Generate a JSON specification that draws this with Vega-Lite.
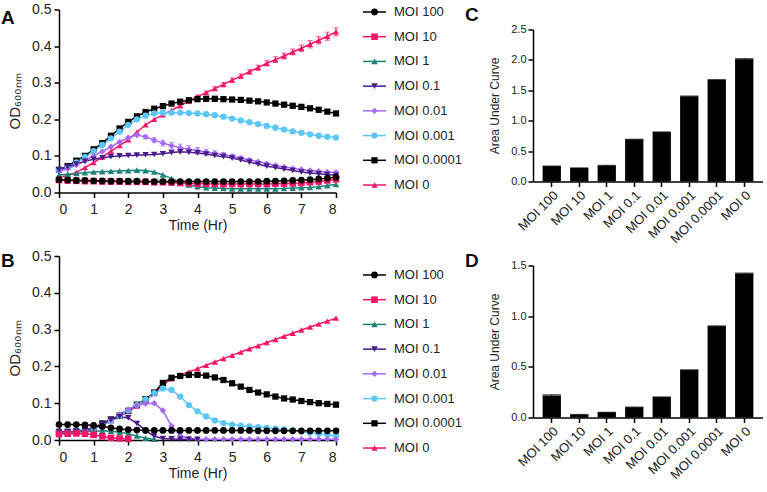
{
  "$schema": "https://vega.github.io/schema/vega-lite/v6.json",
  "background": "white",
  "padding": {"left": 1, "top": 2.5, "right": 0, "bottom": 0},
  "config": {
    "view": {"stroke": null},
    "font": "Liberation Sans",
    "axis": {
      "grid": false,
      "domainColor": "#000",
      "domainWidth": 1.5,
      "tickColor": "#000",
      "tickWidth": 1.5,
      "tickSize": 5,
      "labelColor": "#222",
      "labelFontSize": 13,
      "labelFont": "Liberation Sans",
      "titleFont": "Liberation Sans",
      "titleFontSize": 13,
      "titleFontWeight": "normal",
      "titleColor": "#222"
    },
    "title": {"fontSize": 19, "fontWeight": "bold", "color": "#111", "anchor": "start", "frame": "group", "baseline": "alphabetic"}
  },
  "datasets": {
    "lineA": [
      {"m":"MOI 0","t":0,"v":0.042},{"m":"MOI 0","t":0.25,"v":0.046},{"m":"MOI 0","t":0.5,"v":0.055},{"m":"MOI 0","t":0.75,"v":0.068},
      {"m":"MOI 0","t":1,"v":0.082},{"m":"MOI 0","t":1.25,"v":0.097},{"m":"MOI 0","t":1.5,"v":0.113},{"m":"MOI 0","t":1.75,"v":0.128},
      {"m":"MOI 0","t":2,"v":0.144},{"m":"MOI 0","t":2.25,"v":0.165},{"m":"MOI 0","t":2.5,"v":0.185},{"m":"MOI 0","t":2.75,"v":0.2},
      {"m":"MOI 0","t":3,"v":0.212},{"m":"MOI 0","t":3.25,"v":0.225},{"m":"MOI 0","t":3.5,"v":0.237},{"m":"MOI 0","t":3.75,"v":0.25},
      {"m":"MOI 0","t":4,"v":0.262,"e":0.004},{"m":"MOI 0","t":4.25,"v":0.273,"e":0.004},{"m":"MOI 0","t":4.5,"v":0.284,"e":0.005},{"m":"MOI 0","t":4.75,"v":0.295,"e":0.005},
      {"m":"MOI 0","t":5,"v":0.307,"e":0.006},{"m":"MOI 0","t":5.25,"v":0.318,"e":0.006},{"m":"MOI 0","t":5.5,"v":0.33,"e":0.006},{"m":"MOI 0","t":5.75,"v":0.341,"e":0.007},
      {"m":"MOI 0","t":6,"v":0.353,"e":0.007},{"m":"MOI 0","t":6.25,"v":0.363,"e":0.008},{"m":"MOI 0","t":6.5,"v":0.373,"e":0.008},{"m":"MOI 0","t":6.75,"v":0.384,"e":0.008},
      {"m":"MOI 0","t":7,"v":0.394,"e":0.009},{"m":"MOI 0","t":7.25,"v":0.405,"e":0.01},{"m":"MOI 0","t":7.5,"v":0.416,"e":0.01},{"m":"MOI 0","t":7.75,"v":0.427,"e":0.011},
      {"m":"MOI 0","t":8,"v":0.439,"e":0.011},

      {"m":"MOI 0.0001","t":0,"v":0.062},{"m":"MOI 0.0001","t":0.25,"v":0.072},{"m":"MOI 0.0001","t":0.5,"v":0.087},{"m":"MOI 0.0001","t":0.75,"v":0.1},
      {"m":"MOI 0.0001","t":1,"v":0.118},{"m":"MOI 0.0001","t":1.25,"v":0.135},{"m":"MOI 0.0001","t":1.5,"v":0.155},{"m":"MOI 0.0001","t":1.75,"v":0.175},
      {"m":"MOI 0.0001","t":2,"v":0.193},{"m":"MOI 0.0001","t":2.25,"v":0.208},{"m":"MOI 0.0001","t":2.5,"v":0.22},{"m":"MOI 0.0001","t":2.75,"v":0.229},
      {"m":"MOI 0.0001","t":3,"v":0.236},{"m":"MOI 0.0001","t":3.25,"v":0.243},{"m":"MOI 0.0001","t":3.5,"v":0.248},{"m":"MOI 0.0001","t":3.75,"v":0.252},
      {"m":"MOI 0.0001","t":4,"v":0.255},{"m":"MOI 0.0001","t":4.25,"v":0.256},{"m":"MOI 0.0001","t":4.5,"v":0.256},{"m":"MOI 0.0001","t":4.75,"v":0.255},
      {"m":"MOI 0.0001","t":5,"v":0.254},{"m":"MOI 0.0001","t":5.25,"v":0.253},{"m":"MOI 0.0001","t":5.5,"v":0.251},{"m":"MOI 0.0001","t":5.75,"v":0.249},
      {"m":"MOI 0.0001","t":6,"v":0.246},{"m":"MOI 0.0001","t":6.25,"v":0.243},{"m":"MOI 0.0001","t":6.5,"v":0.24},{"m":"MOI 0.0001","t":6.75,"v":0.237},
      {"m":"MOI 0.0001","t":7,"v":0.234},{"m":"MOI 0.0001","t":7.25,"v":0.23},{"m":"MOI 0.0001","t":7.5,"v":0.226},{"m":"MOI 0.0001","t":7.75,"v":0.221},
      {"m":"MOI 0.0001","t":8,"v":0.216},

      {"m":"MOI 0.001","t":0,"v":0.06},{"m":"MOI 0.001","t":0.25,"v":0.068},{"m":"MOI 0.001","t":0.5,"v":0.082},{"m":"MOI 0.001","t":0.75,"v":0.097},
      {"m":"MOI 0.001","t":1,"v":0.113},{"m":"MOI 0.001","t":1.25,"v":0.13},{"m":"MOI 0.001","t":1.5,"v":0.148},{"m":"MOI 0.001","t":1.75,"v":0.166},
      {"m":"MOI 0.001","t":2,"v":0.185},{"m":"MOI 0.001","t":2.25,"v":0.2},{"m":"MOI 0.001","t":2.5,"v":0.21},{"m":"MOI 0.001","t":2.75,"v":0.216},
      {"m":"MOI 0.001","t":3,"v":0.218},{"m":"MOI 0.001","t":3.25,"v":0.218},{"m":"MOI 0.001","t":3.5,"v":0.218},{"m":"MOI 0.001","t":3.75,"v":0.217},
      {"m":"MOI 0.001","t":4,"v":0.216},{"m":"MOI 0.001","t":4.25,"v":0.214},{"m":"MOI 0.001","t":4.5,"v":0.211},{"m":"MOI 0.001","t":4.75,"v":0.207},
      {"m":"MOI 0.001","t":5,"v":0.202},{"m":"MOI 0.001","t":5.25,"v":0.197},{"m":"MOI 0.001","t":5.5,"v":0.192},{"m":"MOI 0.001","t":5.75,"v":0.187},
      {"m":"MOI 0.001","t":6,"v":0.182},{"m":"MOI 0.001","t":6.25,"v":0.177},{"m":"MOI 0.001","t":6.5,"v":0.172},{"m":"MOI 0.001","t":6.75,"v":0.167},
      {"m":"MOI 0.001","t":7,"v":0.163},{"m":"MOI 0.001","t":7.25,"v":0.159},{"m":"MOI 0.001","t":7.5,"v":0.155},{"m":"MOI 0.001","t":7.75,"v":0.152},
      {"m":"MOI 0.001","t":8,"v":0.15},

      {"m":"MOI 0.01","t":0,"v":0.058},{"m":"MOI 0.01","t":0.25,"v":0.065},{"m":"MOI 0.01","t":0.5,"v":0.075},{"m":"MOI 0.01","t":0.75,"v":0.087},
      {"m":"MOI 0.01","t":1,"v":0.1},{"m":"MOI 0.01","t":1.25,"v":0.112},{"m":"MOI 0.01","t":1.5,"v":0.125},{"m":"MOI 0.01","t":1.75,"v":0.138},
      {"m":"MOI 0.01","t":2,"v":0.15},{"m":"MOI 0.01","t":2.25,"v":0.157},{"m":"MOI 0.01","t":2.5,"v":0.152,"e":0.005},{"m":"MOI 0.01","t":2.75,"v":0.143,"e":0.007},
      {"m":"MOI 0.01","t":3,"v":0.135,"e":0.008},{"m":"MOI 0.01","t":3.25,"v":0.128,"e":0.009},{"m":"MOI 0.01","t":3.5,"v":0.122,"e":0.01},{"m":"MOI 0.01","t":3.75,"v":0.118,"e":0.01},
      {"m":"MOI 0.01","t":4,"v":0.114,"e":0.009},{"m":"MOI 0.01","t":4.25,"v":0.11,"e":0.008},{"m":"MOI 0.01","t":4.5,"v":0.107,"e":0.007},{"m":"MOI 0.01","t":4.75,"v":0.103,"e":0.006},
      {"m":"MOI 0.01","t":5,"v":0.099,"e":0.005},{"m":"MOI 0.01","t":5.25,"v":0.094,"e":0.005},{"m":"MOI 0.01","t":5.5,"v":0.089,"e":0.004},{"m":"MOI 0.01","t":5.75,"v":0.084},
      {"m":"MOI 0.01","t":6,"v":0.079},{"m":"MOI 0.01","t":6.25,"v":0.074},{"m":"MOI 0.01","t":6.5,"v":0.07},{"m":"MOI 0.01","t":6.75,"v":0.066},
      {"m":"MOI 0.01","t":7,"v":0.063},{"m":"MOI 0.01","t":7.25,"v":0.06},{"m":"MOI 0.01","t":7.5,"v":0.058},{"m":"MOI 0.01","t":7.75,"v":0.056},
      {"m":"MOI 0.01","t":8,"v":0.055},

      {"m":"MOI 0.1","t":0,"v":0.062},{"m":"MOI 0.1","t":0.25,"v":0.07},{"m":"MOI 0.1","t":0.5,"v":0.078},{"m":"MOI 0.1","t":0.75,"v":0.085},
      {"m":"MOI 0.1","t":1,"v":0.091},{"m":"MOI 0.1","t":1.25,"v":0.095},{"m":"MOI 0.1","t":1.5,"v":0.098},{"m":"MOI 0.1","t":1.75,"v":0.1},
      {"m":"MOI 0.1","t":2,"v":0.101},{"m":"MOI 0.1","t":2.25,"v":0.102},{"m":"MOI 0.1","t":2.5,"v":0.103},{"m":"MOI 0.1","t":2.75,"v":0.104},
      {"m":"MOI 0.1","t":3,"v":0.106},{"m":"MOI 0.1","t":3.25,"v":0.109},{"m":"MOI 0.1","t":3.5,"v":0.111},{"m":"MOI 0.1","t":3.75,"v":0.11},
      {"m":"MOI 0.1","t":4,"v":0.108},{"m":"MOI 0.1","t":4.25,"v":0.105},{"m":"MOI 0.1","t":4.5,"v":0.101},{"m":"MOI 0.1","t":4.75,"v":0.098},
      {"m":"MOI 0.1","t":5,"v":0.094},{"m":"MOI 0.1","t":5.25,"v":0.089},{"m":"MOI 0.1","t":5.5,"v":0.083},{"m":"MOI 0.1","t":5.75,"v":0.077},
      {"m":"MOI 0.1","t":6,"v":0.072},{"m":"MOI 0.1","t":6.25,"v":0.068},{"m":"MOI 0.1","t":6.5,"v":0.064},{"m":"MOI 0.1","t":6.75,"v":0.06},
      {"m":"MOI 0.1","t":7,"v":0.056},{"m":"MOI 0.1","t":7.25,"v":0.053},{"m":"MOI 0.1","t":7.5,"v":0.051},{"m":"MOI 0.1","t":7.75,"v":0.049},
      {"m":"MOI 0.1","t":8,"v":0.047},

      {"m":"MOI 1","t":0,"v":0.048},{"m":"MOI 1","t":0.25,"v":0.05},{"m":"MOI 1","t":0.5,"v":0.052},{"m":"MOI 1","t":0.75,"v":0.054},
      {"m":"MOI 1","t":1,"v":0.056},{"m":"MOI 1","t":1.25,"v":0.057},{"m":"MOI 1","t":1.5,"v":0.058},{"m":"MOI 1","t":1.75,"v":0.059},
      {"m":"MOI 1","t":2,"v":0.06},{"m":"MOI 1","t":2.25,"v":0.061},{"m":"MOI 1","t":2.5,"v":0.06},{"m":"MOI 1","t":2.75,"v":0.056},
      {"m":"MOI 1","t":3,"v":0.048},{"m":"MOI 1","t":3.25,"v":0.038},{"m":"MOI 1","t":3.5,"v":0.028},{"m":"MOI 1","t":3.75,"v":0.021},
      {"m":"MOI 1","t":4,"v":0.016},{"m":"MOI 1","t":4.25,"v":0.013},{"m":"MOI 1","t":4.5,"v":0.012},{"m":"MOI 1","t":4.75,"v":0.011},
      {"m":"MOI 1","t":5,"v":0.01},{"m":"MOI 1","t":5.25,"v":0.01},{"m":"MOI 1","t":5.5,"v":0.01},{"m":"MOI 1","t":5.75,"v":0.01},
      {"m":"MOI 1","t":6,"v":0.01},{"m":"MOI 1","t":6.25,"v":0.01},{"m":"MOI 1","t":6.5,"v":0.011},{"m":"MOI 1","t":6.75,"v":0.012},
      {"m":"MOI 1","t":7,"v":0.013},{"m":"MOI 1","t":7.25,"v":0.014},{"m":"MOI 1","t":7.5,"v":0.016},{"m":"MOI 1","t":7.75,"v":0.019},
      {"m":"MOI 1","t":8,"v":0.022},

      {"m":"MOI 10","t":0,"v":0.034},{"m":"MOI 10","t":0.25,"v":0.033},{"m":"MOI 10","t":0.5,"v":0.032},{"m":"MOI 10","t":0.75,"v":0.031},
      {"m":"MOI 10","t":1,"v":0.031},{"m":"MOI 10","t":1.25,"v":0.03},{"m":"MOI 10","t":1.5,"v":0.03},{"m":"MOI 10","t":1.75,"v":0.03},
      {"m":"MOI 10","t":2,"v":0.029},{"m":"MOI 10","t":2.25,"v":0.029},{"m":"MOI 10","t":2.5,"v":0.029},{"m":"MOI 10","t":2.75,"v":0.028},
      {"m":"MOI 10","t":3,"v":0.028},{"m":"MOI 10","t":3.25,"v":0.027},{"m":"MOI 10","t":3.5,"v":0.026},{"m":"MOI 10","t":3.75,"v":0.025},
      {"m":"MOI 10","t":4,"v":0.024},{"m":"MOI 10","t":4.25,"v":0.024},{"m":"MOI 10","t":4.5,"v":0.023},{"m":"MOI 10","t":4.75,"v":0.023},
      {"m":"MOI 10","t":5,"v":0.023},{"m":"MOI 10","t":5.25,"v":0.023},{"m":"MOI 10","t":5.5,"v":0.023},{"m":"MOI 10","t":5.75,"v":0.023},
      {"m":"MOI 10","t":6,"v":0.023},{"m":"MOI 10","t":6.25,"v":0.024},{"m":"MOI 10","t":6.5,"v":0.024},{"m":"MOI 10","t":6.75,"v":0.025},
      {"m":"MOI 10","t":7,"v":0.026},{"m":"MOI 10","t":7.25,"v":0.028},{"m":"MOI 10","t":7.5,"v":0.03},{"m":"MOI 10","t":7.75,"v":0.033},
      {"m":"MOI 10","t":8,"v":0.036},

      {"m":"MOI 100","t":0,"v":0.035},{"m":"MOI 100","t":0.25,"v":0.034},{"m":"MOI 100","t":0.5,"v":0.033},{"m":"MOI 100","t":0.75,"v":0.033},
      {"m":"MOI 100","t":1,"v":0.032},{"m":"MOI 100","t":1.25,"v":0.032},{"m":"MOI 100","t":1.5,"v":0.031},{"m":"MOI 100","t":1.75,"v":0.031},
      {"m":"MOI 100","t":2,"v":0.031},{"m":"MOI 100","t":2.25,"v":0.031},{"m":"MOI 100","t":2.5,"v":0.03},{"m":"MOI 100","t":2.75,"v":0.03},
      {"m":"MOI 100","t":3,"v":0.03},{"m":"MOI 100","t":3.25,"v":0.03},{"m":"MOI 100","t":3.5,"v":0.03},{"m":"MOI 100","t":3.75,"v":0.03},
      {"m":"MOI 100","t":4,"v":0.03},{"m":"MOI 100","t":4.25,"v":0.03},{"m":"MOI 100","t":4.5,"v":0.03},{"m":"MOI 100","t":4.75,"v":0.03},
      {"m":"MOI 100","t":5,"v":0.03},{"m":"MOI 100","t":5.25,"v":0.03},{"m":"MOI 100","t":5.5,"v":0.03},{"m":"MOI 100","t":5.75,"v":0.03},
      {"m":"MOI 100","t":6,"v":0.031},{"m":"MOI 100","t":6.25,"v":0.031},{"m":"MOI 100","t":6.5,"v":0.032},{"m":"MOI 100","t":6.75,"v":0.033},
      {"m":"MOI 100","t":7,"v":0.034},{"m":"MOI 100","t":7.25,"v":0.035},{"m":"MOI 100","t":7.5,"v":0.037},{"m":"MOI 100","t":7.75,"v":0.039},
      {"m":"MOI 100","t":8,"v":0.042}
    ],
    "lineB": [
      {"m":"MOI 0","t":0,"v":0.02},{"m":"MOI 0","t":0.25,"v":0.021},{"m":"MOI 0","t":0.5,"v":0.022},{"m":"MOI 0","t":0.75,"v":0.025},
      {"m":"MOI 0","t":1,"v":0.03},{"m":"MOI 0","t":1.25,"v":0.04},{"m":"MOI 0","t":1.5,"v":0.052},{"m":"MOI 0","t":1.75,"v":0.064},
      {"m":"MOI 0","t":2,"v":0.077},{"m":"MOI 0","t":2.25,"v":0.092},{"m":"MOI 0","t":2.5,"v":0.108},{"m":"MOI 0","t":2.75,"v":0.126},
      {"m":"MOI 0","t":3,"v":0.15},{"m":"MOI 0","t":3.25,"v":0.166},{"m":"MOI 0","t":3.5,"v":0.176},{"m":"MOI 0","t":3.75,"v":0.185},
      {"m":"MOI 0","t":4,"v":0.194},{"m":"MOI 0","t":4.25,"v":0.203},{"m":"MOI 0","t":4.5,"v":0.212},{"m":"MOI 0","t":4.75,"v":0.221},
      {"m":"MOI 0","t":5,"v":0.23},{"m":"MOI 0","t":5.25,"v":0.239},{"m":"MOI 0","t":5.5,"v":0.248},{"m":"MOI 0","t":5.75,"v":0.256},
      {"m":"MOI 0","t":6,"v":0.265},{"m":"MOI 0","t":6.25,"v":0.273},{"m":"MOI 0","t":6.5,"v":0.282},{"m":"MOI 0","t":6.75,"v":0.29},
      {"m":"MOI 0","t":7,"v":0.299},{"m":"MOI 0","t":7.25,"v":0.307},{"m":"MOI 0","t":7.5,"v":0.315},{"m":"MOI 0","t":7.75,"v":0.323},
      {"m":"MOI 0","t":8,"v":0.331},

      {"m":"MOI 0.0001","t":0,"v":0.022},{"m":"MOI 0.0001","t":0.25,"v":0.022},{"m":"MOI 0.0001","t":0.5,"v":0.023},{"m":"MOI 0.0001","t":0.75,"v":0.026},
      {"m":"MOI 0.0001","t":1,"v":0.032},{"m":"MOI 0.0001","t":1.25,"v":0.045},{"m":"MOI 0.0001","t":1.5,"v":0.056},{"m":"MOI 0.0001","t":1.75,"v":0.066},
      {"m":"MOI 0.0001","t":2,"v":0.079},{"m":"MOI 0.0001","t":2.25,"v":0.096},{"m":"MOI 0.0001","t":2.5,"v":0.111},{"m":"MOI 0.0001","t":2.75,"v":0.129},
      {"m":"MOI 0.0001","t":3,"v":0.155},{"m":"MOI 0.0001","t":3.25,"v":0.169},{"m":"MOI 0.0001","t":3.5,"v":0.174},{"m":"MOI 0.0001","t":3.75,"v":0.177},
      {"m":"MOI 0.0001","t":4,"v":0.177},{"m":"MOI 0.0001","t":4.25,"v":0.175},{"m":"MOI 0.0001","t":4.5,"v":0.17},{"m":"MOI 0.0001","t":4.75,"v":0.163},
      {"m":"MOI 0.0001","t":5,"v":0.154},{"m":"MOI 0.0001","t":5.25,"v":0.145},{"m":"MOI 0.0001","t":5.5,"v":0.136},{"m":"MOI 0.0001","t":5.75,"v":0.129},
      {"m":"MOI 0.0001","t":6,"v":0.124},{"m":"MOI 0.0001","t":6.25,"v":0.118},{"m":"MOI 0.0001","t":6.5,"v":0.113},{"m":"MOI 0.0001","t":6.75,"v":0.11},
      {"m":"MOI 0.0001","t":7,"v":0.106},{"m":"MOI 0.0001","t":7.25,"v":0.103},{"m":"MOI 0.0001","t":7.5,"v":0.1},{"m":"MOI 0.0001","t":7.75,"v":0.098},
      {"m":"MOI 0.0001","t":8,"v":0.096},

      {"m":"MOI 0.001","t":0,"v":0.022},{"m":"MOI 0.001","t":0.25,"v":0.022},{"m":"MOI 0.001","t":0.5,"v":0.023},{"m":"MOI 0.001","t":0.75,"v":0.025},
      {"m":"MOI 0.001","t":1,"v":0.03},{"m":"MOI 0.001","t":1.25,"v":0.04},{"m":"MOI 0.001","t":1.5,"v":0.052},{"m":"MOI 0.001","t":1.75,"v":0.065},
      {"m":"MOI 0.001","t":2,"v":0.08},{"m":"MOI 0.001","t":2.25,"v":0.095},{"m":"MOI 0.001","t":2.5,"v":0.11},{"m":"MOI 0.001","t":2.75,"v":0.127},
      {"m":"MOI 0.001","t":3,"v":0.14},{"m":"MOI 0.001","t":3.25,"v":0.136},{"m":"MOI 0.001","t":3.5,"v":0.118},{"m":"MOI 0.001","t":3.75,"v":0.095},
      {"m":"MOI 0.001","t":4,"v":0.078},{"m":"MOI 0.001","t":4.25,"v":0.064},{"m":"MOI 0.001","t":4.5,"v":0.053},{"m":"MOI 0.001","t":4.75,"v":0.046},
      {"m":"MOI 0.001","t":5,"v":0.042},{"m":"MOI 0.001","t":5.25,"v":0.039},{"m":"MOI 0.001","t":5.5,"v":0.037},{"m":"MOI 0.001","t":5.75,"v":0.035},
      {"m":"MOI 0.001","t":6,"v":0.033},{"m":"MOI 0.001","t":6.25,"v":0.031},{"m":"MOI 0.001","t":6.5,"v":0.029},{"m":"MOI 0.001","t":6.75,"v":0.026},
      {"m":"MOI 0.001","t":7,"v":0.023},{"m":"MOI 0.001","t":7.25,"v":0.02},{"m":"MOI 0.001","t":7.5,"v":0.017},{"m":"MOI 0.001","t":7.75,"v":0.014},
      {"m":"MOI 0.001","t":8,"v":0.012},

      {"m":"MOI 0.01","t":0,"v":0.02},{"m":"MOI 0.01","t":0.25,"v":0.021},{"m":"MOI 0.01","t":0.5,"v":0.022},{"m":"MOI 0.01","t":0.75,"v":0.025},
      {"m":"MOI 0.01","t":1,"v":0.03},{"m":"MOI 0.01","t":1.25,"v":0.042},{"m":"MOI 0.01","t":1.5,"v":0.055},{"m":"MOI 0.01","t":1.75,"v":0.07},
      {"m":"MOI 0.01","t":2,"v":0.083},{"m":"MOI 0.01","t":2.25,"v":0.093},{"m":"MOI 0.01","t":2.5,"v":0.099},{"m":"MOI 0.01","t":2.75,"v":0.1},
      {"m":"MOI 0.01","t":3,"v":0.08},{"m":"MOI 0.01","t":3.25,"v":0.038},{"m":"MOI 0.01","t":3.5,"v":0.012},{"m":"MOI 0.01","t":3.75,"v":0.004},
      {"m":"MOI 0.01","t":4,"v":0.002},{"m":"MOI 0.01","t":4.25,"v":0.002},{"m":"MOI 0.01","t":4.5,"v":0.002},{"m":"MOI 0.01","t":4.75,"v":0.002},
      {"m":"MOI 0.01","t":5,"v":0.002},{"m":"MOI 0.01","t":5.25,"v":0.002},{"m":"MOI 0.01","t":5.5,"v":0.002},{"m":"MOI 0.01","t":5.75,"v":0.002},
      {"m":"MOI 0.01","t":6,"v":0.002},{"m":"MOI 0.01","t":6.25,"v":0.002},{"m":"MOI 0.01","t":6.5,"v":0.002},{"m":"MOI 0.01","t":6.75,"v":0.002},
      {"m":"MOI 0.01","t":7,"v":0.002},{"m":"MOI 0.01","t":7.25,"v":0.002},{"m":"MOI 0.01","t":7.5,"v":0.002},{"m":"MOI 0.01","t":7.75,"v":0.002},
      {"m":"MOI 0.01","t":8,"v":0.002},

      {"m":"MOI 0.1","t":0,"v":0.022},{"m":"MOI 0.1","t":0.25,"v":0.023},{"m":"MOI 0.1","t":0.5,"v":0.024},{"m":"MOI 0.1","t":0.75,"v":0.027},
      {"m":"MOI 0.1","t":1,"v":0.033},{"m":"MOI 0.1","t":1.25,"v":0.045},{"m":"MOI 0.1","t":1.5,"v":0.055},{"m":"MOI 0.1","t":1.75,"v":0.063},
      {"m":"MOI 0.1","t":2,"v":0.06},{"m":"MOI 0.1","t":2.25,"v":0.045},{"m":"MOI 0.1","t":2.5,"v":0.026},{"m":"MOI 0.1","t":2.75,"v":0.01},
      {"m":"MOI 0.1","t":3,"v":0.004},{"m":"MOI 0.1","t":3.25,"v":0.003},{"m":"MOI 0.1","t":3.5,"v":0.002},{"m":"MOI 0.1","t":3.75,"v":0.002},
      {"m":"MOI 0.1","t":4,"v":0.002},

      {"m":"MOI 1","t":0,"v":0.02},{"m":"MOI 1","t":0.25,"v":0.021},{"m":"MOI 1","t":0.5,"v":0.022},{"m":"MOI 1","t":0.75,"v":0.023},
      {"m":"MOI 1","t":1,"v":0.024},{"m":"MOI 1","t":1.25,"v":0.025},{"m":"MOI 1","t":1.5,"v":0.024},{"m":"MOI 1","t":1.75,"v":0.021},
      {"m":"MOI 1","t":2,"v":0.017},{"m":"MOI 1","t":2.25,"v":0.011},{"m":"MOI 1","t":2.5,"v":0.005},{"m":"MOI 1","t":2.75,"v":0.002},

      {"m":"MOI 10","t":0,"v":0.016},{"m":"MOI 10","t":0.25,"v":0.017},{"m":"MOI 10","t":0.5,"v":0.018},{"m":"MOI 10","t":0.75,"v":0.017},
      {"m":"MOI 10","t":1,"v":0.014},{"m":"MOI 10","t":1.25,"v":0.01},{"m":"MOI 10","t":1.5,"v":0.006},{"m":"MOI 10","t":1.75,"v":0.004},
      {"m":"MOI 10","t":2,"v":0.003},

      {"m":"MOI 100","t":0,"v":0.042},{"m":"MOI 100","t":0.25,"v":0.042},{"m":"MOI 100","t":0.5,"v":0.042},{"m":"MOI 100","t":0.75,"v":0.041},
      {"m":"MOI 100","t":1,"v":0.04},{"m":"MOI 100","t":1.25,"v":0.037},{"m":"MOI 100","t":1.5,"v":0.033},{"m":"MOI 100","t":1.75,"v":0.03},
      {"m":"MOI 100","t":2,"v":0.028},{"m":"MOI 100","t":2.25,"v":0.027},{"m":"MOI 100","t":2.5,"v":0.026},{"m":"MOI 100","t":2.75,"v":0.026},
      {"m":"MOI 100","t":3,"v":0.026},{"m":"MOI 100","t":3.25,"v":0.026},{"m":"MOI 100","t":3.5,"v":0.026},{"m":"MOI 100","t":3.75,"v":0.026},
      {"m":"MOI 100","t":4,"v":0.026},{"m":"MOI 100","t":4.25,"v":0.026},{"m":"MOI 100","t":4.5,"v":0.026},{"m":"MOI 100","t":4.75,"v":0.026},
      {"m":"MOI 100","t":5,"v":0.026},{"m":"MOI 100","t":5.25,"v":0.026},{"m":"MOI 100","t":5.5,"v":0.026},{"m":"MOI 100","t":5.75,"v":0.025},
      {"m":"MOI 100","t":6,"v":0.025},{"m":"MOI 100","t":6.25,"v":0.025},{"m":"MOI 100","t":6.5,"v":0.025},{"m":"MOI 100","t":6.75,"v":0.025},
      {"m":"MOI 100","t":7,"v":0.025},{"m":"MOI 100","t":7.25,"v":0.025},{"m":"MOI 100","t":7.5,"v":0.025},{"m":"MOI 100","t":7.75,"v":0.025},
      {"m":"MOI 100","t":8,"v":0.025}
    ],
    "series": [
      {"m":"MOI 100"},{"m":"MOI 10"},{"m":"MOI 1"},{"m":"MOI 0.1"},
      {"m":"MOI 0.01"},{"m":"MOI 0.001"},{"m":"MOI 0.0001"},{"m":"MOI 0"}
    ],
    "aucC": [
      {"m":"MOI 100","v":0.25,"e":0.005},{"m":"MOI 10","v":0.22,"e":0.005},{"m":"MOI 1","v":0.26,"e":0.006},{"m":"MOI 0.1","v":0.69,"e":0.006},
      {"m":"MOI 0.01","v":0.81,"e":0.007},{"m":"MOI 0.001","v":1.4,"e":0.007},{"m":"MOI 0.0001","v":1.67,"e":0.008},{"m":"MOI 0","v":2.01,"e":0.012}
    ],
    "aucD": [
      {"m":"MOI 100","v":0.217,"e":0.008},{"m":"MOI 10","v":0.027,"e":0.004},{"m":"MOI 1","v":0.05,"e":0.003},{"m":"MOI 0.1","v":0.1,"e":0.004},
      {"m":"MOI 0.01","v":0.2,"e":0.004},{"m":"MOI 0.001","v":0.467,"e":0.005},{"m":"MOI 0.0001","v":0.9,"e":0.005},{"m":"MOI 0","v":1.42,"e":0.006}
    ]
  },
  "spacing": 9,
  "hconcat": [
    {
      "spacing": 16.5,
      "vconcat": [
        {
          "width": 277,
          "height": 183,
          "title": {"text": "A", "dx": -58, "offset": -25},
          "data": {"name": "lineA"},
          "encoding": {
            "x": {"field": "t", "type": "quantitative", "scale": {"domain": [0, 8], "nice": false},
                  "axis": {"values": [0, 1, 2, 3, 4, 5, 6, 7, 8], "title": "Time (Hr)", "labelFontSize": 14, "titleFontSize": 14, "labelPadding": 5, "titlePadding": 2}},
            "y": {"field": "v", "type": "quantitative", "scale": {"domain": [0, 0.5], "nice": false},
                  "axis": {"values": [0, 0.1, 0.2, 0.3, 0.4, 0.5], "format": ".1f", "title": "OD₆₀₀ₙₘ", "titleFontSize": 15, "labelFontSize": 14, "labelPadding": 3, "titlePadding": 9}},
            "color": {"field": "m", "type": "nominal", "legend": null,
                      "scale": {"domain": ["MOI 100", "MOI 10", "MOI 1", "MOI 0.1", "MOI 0.01", "MOI 0.001", "MOI 0.0001", "MOI 0"],
                                "range": ["#000000", "#F7146B", "#1B8378", "#4A1A8A", "#A46BF2", "#5CC7F7", "#000000", "#F7146B"]}}
          },
          "layer": [
            {"mark": {"type": "line", "strokeWidth": 1.5}},
            {"transform": [{"filter": "datum.e > 0"}],
             "mark": {"type": "errorbar", "ticks": true, "thickness": 1},
             "encoding": {"yError": {"field": "e"}}},
            {"mark": {"type": "point", "filled": true, "opacity": 1},
             "encoding": {
               "shape": {"field": "m", "type": "nominal", "legend": null,
                         "scale": {"domain": ["MOI 100", "MOI 10", "MOI 1", "MOI 0.1", "MOI 0.01", "MOI 0.001", "MOI 0.0001", "MOI 0"],
                                   "range": ["circle", "square", "triangle-up", "triangle-down", "diamond", "circle", "square", "triangle-up"]}},
               "size": {"field": "m", "type": "nominal", "legend": null,
                        "scale": {"domain": ["MOI 100", "MOI 10", "MOI 1", "MOI 0.1", "MOI 0.01", "MOI 0.001", "MOI 0.0001", "MOI 0"],
                                  "range": [45, 38, 50, 50, 36, 80, 68, 78]}}
             }}
          ]
        },
        {
          "width": 277,
          "height": 184,
          "title": {"text": "B", "dx": -58, "offset": -21.5},
          "data": {"name": "lineB"},
          "encoding": {
            "x": {"field": "t", "type": "quantitative", "scale": {"domain": [0, 8], "nice": false},
                  "axis": {"values": [0, 1, 2, 3, 4, 5, 6, 7, 8], "title": "Time (Hr)", "labelFontSize": 14, "titleFontSize": 14, "labelPadding": 5, "titlePadding": 2}},
            "y": {"field": "v", "type": "quantitative", "scale": {"domain": [0, 0.5], "nice": false},
                  "axis": {"values": [0, 0.1, 0.2, 0.3, 0.4, 0.5], "format": ".1f", "title": "OD₆₀₀ₙₘ", "titleFontSize": 15, "labelFontSize": 14, "labelPadding": 3, "titlePadding": 9}},
            "color": {"field": "m", "type": "nominal", "legend": null,
                      "scale": {"domain": ["MOI 100", "MOI 10", "MOI 1", "MOI 0.1", "MOI 0.01", "MOI 0.001", "MOI 0.0001", "MOI 0"],
                                "range": ["#000000", "#F7146B", "#1B8378", "#4A1A8A", "#A46BF2", "#5CC7F7", "#000000", "#F7146B"]}}
          },
          "layer": [
            {"mark": {"type": "line", "strokeWidth": 1.5}},
            {"mark": {"type": "point", "filled": true, "opacity": 1},
             "encoding": {
               "shape": {"field": "m", "type": "nominal", "legend": null,
                         "scale": {"domain": ["MOI 100", "MOI 10", "MOI 1", "MOI 0.1", "MOI 0.01", "MOI 0.001", "MOI 0.0001", "MOI 0"],
                                   "range": ["circle", "square", "triangle-up", "triangle-down", "diamond", "circle", "square", "triangle-up"]}},
               "size": {"field": "m", "type": "nominal", "legend": null,
                        "scale": {"domain": ["MOI 100", "MOI 10", "MOI 1", "MOI 0.1", "MOI 0.01", "MOI 0.001", "MOI 0.0001", "MOI 0"],
                                  "range": [45, 38, 50, 50, 36, 80, 68, 78]}}
             }}
          ]
        }
      ]
    },
    {
      "spacing": 59,
      "vconcat": [
        {
          "width": 113,
          "height": 178,
          "title": {"text": "C", "dx": 116, "offset": -19},
          "data": {"name": "series"},
          "encoding": {
            "y": {"field": "m", "type": "nominal", "axis": null,
                  "scale": {"type": "point", "padding": 0.1,
                            "domain": ["MOI 100", "MOI 10", "MOI 1", "MOI 0.1", "MOI 0.01", "MOI 0.001", "MOI 0.0001", "MOI 0"]}},
            "color": {"field": "m", "type": "nominal", "legend": null,
                      "scale": {"domain": ["MOI 100", "MOI 10", "MOI 1", "MOI 0.1", "MOI 0.01", "MOI 0.001", "MOI 0.0001", "MOI 0"],
                                "range": ["#000000", "#F7146B", "#1B8378", "#4A1A8A", "#A46BF2", "#5CC7F7", "#000000", "#F7146B"]}}
          },
          "layer": [
            {"mark": {"type": "rule", "strokeWidth": 1.5},
             "encoding": {"x": {"datum": 14, "type": "quantitative", "axis": null, "scale": {"domain": [0, 113], "nice": false}},
                          "x2": {"datum": 37}}},
            {"mark": {"type": "point", "filled": true, "opacity": 1},
             "encoding": {"x": {"datum": 25.5, "type": "quantitative"},
               "shape": {"field": "m", "type": "nominal", "legend": null,
                         "scale": {"domain": ["MOI 100", "MOI 10", "MOI 1", "MOI 0.1", "MOI 0.01", "MOI 0.001", "MOI 0.0001", "MOI 0"],
                                   "range": ["circle", "square", "triangle-up", "triangle-down", "diamond", "circle", "square", "triangle-up"]}},
               "size": {"field": "m", "type": "nominal", "legend": null,
                        "scale": {"domain": ["MOI 100", "MOI 10", "MOI 1", "MOI 0.1", "MOI 0.01", "MOI 0.001", "MOI 0.0001", "MOI 0"],
                                  "range": [45, 38, 50, 50, 36, 80, 68, 78]}}}},
            {"mark": {"type": "text", "align": "left", "baseline": "middle", "fontSize": 13, "font": "Liberation Sans"},
             "encoding": {"x": {"datum": 45, "type": "quantitative"}, "text": {"field": "m"}, "color": {"value": "#222"}}}
          ]
        },
        {
          "width": 113,
          "height": 178,
          "title": {"text": "D", "dx": 116, "offset": -2},
          "data": {"name": "series"},
          "encoding": {
            "y": {"field": "m", "type": "nominal", "axis": null,
                  "scale": {"type": "point", "padding": 0.1,
                            "domain": ["MOI 100", "MOI 10", "MOI 1", "MOI 0.1", "MOI 0.01", "MOI 0.001", "MOI 0.0001", "MOI 0"]}},
            "color": {"field": "m", "type": "nominal", "legend": null,
                      "scale": {"domain": ["MOI 100", "MOI 10", "MOI 1", "MOI 0.1", "MOI 0.01", "MOI 0.001", "MOI 0.0001", "MOI 0"],
                                "range": ["#000000", "#F7146B", "#1B8378", "#4A1A8A", "#A46BF2", "#5CC7F7", "#000000", "#F7146B"]}}
          },
          "layer": [
            {"mark": {"type": "rule", "strokeWidth": 1.5},
             "encoding": {"x": {"datum": 14, "type": "quantitative", "axis": null, "scale": {"domain": [0, 113], "nice": false}},
                          "x2": {"datum": 37}}},
            {"mark": {"type": "point", "filled": true, "opacity": 1},
             "encoding": {"x": {"datum": 25.5, "type": "quantitative"},
               "shape": {"field": "m", "type": "nominal", "legend": null,
                         "scale": {"domain": ["MOI 100", "MOI 10", "MOI 1", "MOI 0.1", "MOI 0.01", "MOI 0.001", "MOI 0.0001", "MOI 0"],
                                   "range": ["circle", "square", "triangle-up", "triangle-down", "diamond", "circle", "square", "triangle-up"]}},
               "size": {"field": "m", "type": "nominal", "legend": null,
                        "scale": {"domain": ["MOI 100", "MOI 10", "MOI 1", "MOI 0.1", "MOI 0.01", "MOI 0.001", "MOI 0.0001", "MOI 0"],
                                  "range": [45, 38, 50, 50, 36, 80, 68, 78]}}}},
            {"mark": {"type": "text", "align": "left", "baseline": "middle", "fontSize": 13, "font": "Liberation Sans"},
             "encoding": {"x": {"datum": 45, "type": "quantitative"}, "text": {"field": "m"}, "color": {"value": "#222"}}}
          ]
        }
      ]
    },
    {
      "spacing": 13,
      "vconcat": [
        {
          "width": 230,
          "height": 1,
          "data": {"values": []},
          "mark": "point",
          "encoding": {}
        },
        {
          "width": 230,
          "height": 152,
          "data": {"name": "aucC"},
          "encoding": {
            "x": {"field": "m", "type": "nominal", "sort": ["MOI 100", "MOI 10", "MOI 1", "MOI 0.1", "MOI 0.01", "MOI 0.001", "MOI 0.0001", "MOI 0"],
                  "scale": {"paddingInner": 0.335, "paddingOuter": 0.35},
                  "axis": {"title": null, "labelAngle": -45, "labelAlign": "right", "labelBaseline": "top", "labelPadding": 2, "labelFontSize": 13}},
            "y": {"field": "v", "type": "quantitative", "scale": {"domain": [0, 2.5], "nice": false},
                  "axis": {"values": [0, 0.5, 1, 1.5, 2, 2.5], "format": ".1f", "title": "Area Under Curve", "titleFontSize": 12, "labelFontSize": 11, "labelPadding": 2, "titlePadding": 9}}
          },
          "layer": [
            {"mark": {"type": "bar", "color": "#000"}},
            {"mark": {"type": "errorbar", "ticks": true, "color": "#000", "thickness": 1}, "encoding": {"yError": {"field": "e"}}}
          ]
        },
        {
          "width": 230,
          "height": 152,
          "data": {"name": "aucD"},
          "encoding": {
            "x": {"field": "m", "type": "nominal", "sort": ["MOI 100", "MOI 10", "MOI 1", "MOI 0.1", "MOI 0.01", "MOI 0.001", "MOI 0.0001", "MOI 0"],
                  "scale": {"paddingInner": 0.335, "paddingOuter": 0.35},
                  "axis": {"title": null, "labelAngle": -45, "labelAlign": "right", "labelBaseline": "top", "labelPadding": 2, "labelFontSize": 13}},
            "y": {"field": "v", "type": "quantitative", "scale": {"domain": [0, 1.5], "nice": false},
                  "axis": {"values": [0, 0.5, 1, 1.5], "format": ".1f", "title": "Area Under Curve", "titleFontSize": 12, "labelFontSize": 11, "labelPadding": 2, "titlePadding": 9}}
          },
          "layer": [
            {"mark": {"type": "bar", "color": "#000"}},
            {"mark": {"type": "errorbar", "ticks": true, "color": "#000", "thickness": 1}, "encoding": {"yError": {"field": "e"}}}
          ]
        }
      ]
    }
  ]
}
